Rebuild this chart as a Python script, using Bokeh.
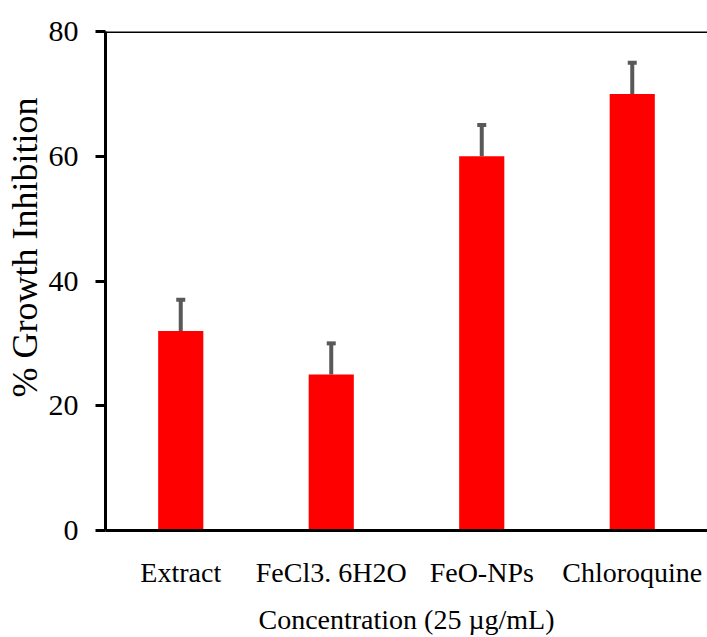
from bokeh.plotting import figure
from bokeh.models import ColumnDataSource, FixedTicker, Whisker, TeeHead, Span, Title, FactorRange
from bokeh.embed import file_html
from bokeh.resources import INLINE

categories = ["Extract", "FeCl3. 6H2O", "FeO-NPs", "Chloroquine"]
inhibition = [32, 25, 60, 70]
errors = [5, 5, 5, 5]
y_ticks = [0, 20, 40, 60, 80]

FONT = "Liberation Serif"

src = ColumnDataSource(dict(
    cat=categories,
    val=inhibition,
    upper=[v + e for v, e in zip(inhibition, errors)],
))

p = figure(width=707, height=637, x_range=FactorRange(*categories, range_padding=0),
           y_range=(0, 80), output_backend="svg", toolbar_location=None,
           min_border_left=105, min_border_right=0, min_border_top=31, min_border_bottom=107)
p.background_fill_color = "white"
p.border_fill_color = "white"
p.outline_line_color = None
p.xgrid.visible = False
p.ygrid.visible = False

p.vbar(x="cat", top="val", bottom=0, width=0.3, source=src, fill_color="#FF0000", line_color=None)

wh = Whisker(source=src, base="cat", lower="val", upper="upper", dimension="height",
             line_color="#595959", line_width=4,
             upper_head=TeeHead(size=9, line_color="#595959", line_width=4),
             lower_head=None)
p.add_layout(wh)

p.add_layout(Span(location=80, dimension="width", line_color="black", line_width=3))

# y axis
p.yaxis.ticker = FixedTicker(ticks=y_ticks)
p.yaxis.minor_tick_line_color = None
p.yaxis.major_tick_in = 0
p.yaxis.major_tick_out = 10
p.yaxis.major_tick_line_width = 3
p.yaxis.axis_line_width = 3
p.yaxis.major_label_text_font = FONT
p.yaxis.major_label_text_font_size = "30px"
p.yaxis.major_label_text_color = "black"
p.yaxis.major_label_standoff = 17

ytitle = Title(text="% Growth Inhibition", align="left", offset=133,
               text_font=FONT, text_font_size="36px", text_font_style="normal",
               text_color="black", standoff=2)
p.add_layout(ytitle, "left")

# x axis
p.xaxis.major_tick_line_color = None
p.xaxis.minor_tick_line_color = None
p.xaxis.major_tick_out = 0
p.xaxis.axis_line_width = 3
p.xaxis.major_label_text_font = FONT
p.xaxis.major_label_text_font_size = "28px"
p.xaxis.major_label_text_color = "black"
p.xaxis.major_label_standoff = 26
p.xaxis.axis_label = "Concentration (25 µg/mL)"
p.xaxis.axis_label_text_font = FONT
p.xaxis.axis_label_text_font_size = "28px"
p.xaxis.axis_label_text_font_style = "normal"
p.xaxis.axis_label_text_color = "black"
p.xaxis.axis_label_standoff = 13

open("out.html", "w").write(file_html(p, INLINE))
